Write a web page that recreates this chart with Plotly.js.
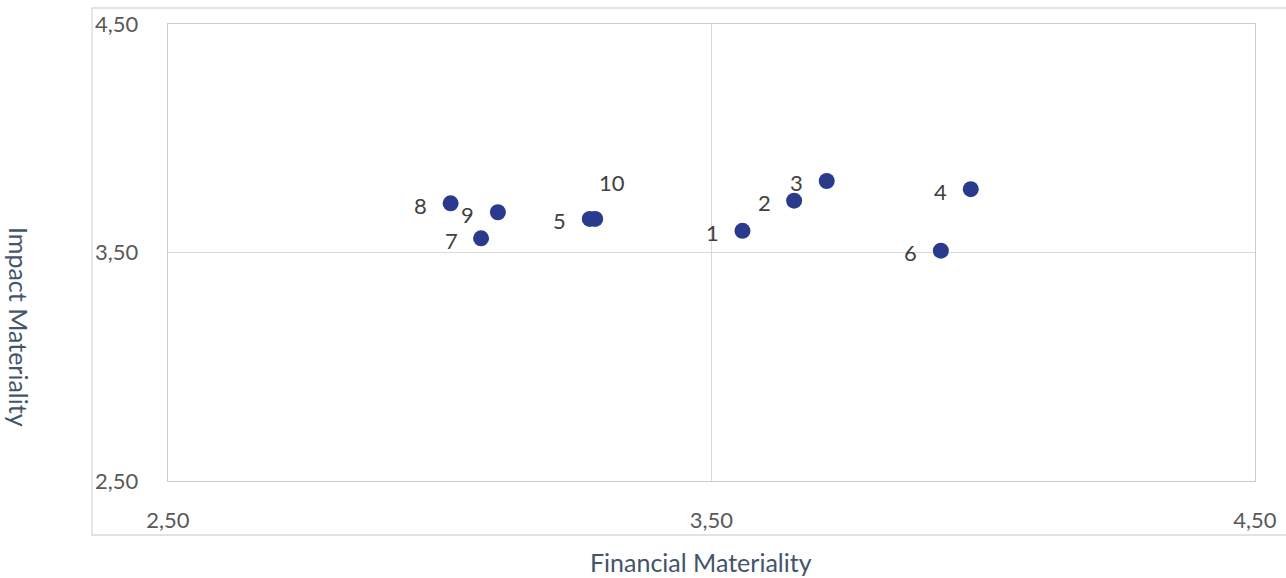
<!DOCTYPE html>
<html>
<head>
<meta charset="utf-8">
<script src="https://cdn.plot.ly/plotly-3.0.1.min.js"></script>
<style>
  html, body { margin: 0; padding: 0; background: #ffffff; }
  #chart { width: 1286px; height: 578px; }
</style>
</head>
<body>
<div id="chart"></div>
<script>
// Materiality assessment: financial vs impact score per topic
const topics = ["1", "2", "3", "4", "5", "6", "7", "8", "9", "10"];
const financial = [3.557, 3.652, 3.712, 3.977, 3.276, 3.922, 3.076, 3.020, 3.107, 3.286];
const impact    = [3.595, 3.727, 3.813, 3.777, 3.647, 3.508, 3.562, 3.715, 3.676, 3.647];
const tickValues = [2.5, 3.5, 4.5];
const tickLabels = ["2,50", "3,50", "4,50"];

const FONT = "Lato, 'Open Sans', sans-serif";

// Label placement: to the left of each dot, topic 10 sits above-right
const labelShift = topics.map(t => t === "10" ? {x: 17, y: 36} : {x: -30, y: -2});

const pointLabels = topics.map((t, i) => ({
  x: financial[i], y: impact[i], xref: "x", yref: "y",
  text: t, showarrow: false,
  xanchor: "center", yanchor: "middle",
  xshift: labelShift[i].x, yshift: labelShift[i].y,
  font: {family: FONT, size: 22, color: "#404040"}
}));

const axisTitles = [
  {text: "Financial Materiality", xref: "paper", yref: "paper", x: 0.4903, y: -0.178,
   xanchor: "center", yanchor: "middle", showarrow: false,
   font: {family: FONT, size: 25, color: "#44546a"}},
  {text: "Impact Materiality", xref: "paper", yref: "paper", x: -0.1371, y: 0.337,
   xanchor: "center", yanchor: "middle", showarrow: false, textangle: 90,
   font: {family: FONT, size: 25, color: "#44546a"}}
];

const trace = {
  type: "scatter", mode: "markers",
  x: financial, y: impact, text: topics,
  marker: {size: 16, color: "#2a3a8c"},
  hoverinfo: "text+x+y"
};

const axisCommon = {
  range: [2.5, 4.5],
  tickvals: tickValues, ticktext: tickLabels,
  showgrid: true, gridcolor: "#d9d9d9", gridwidth: 1.3,
  zeroline: false,
  showline: true, mirror: true, linecolor: "#cccccc", linewidth: 1.3,
  ticks: "",
  tickfont: {family: FONT, size: 22, color: "#595959"},
  fixedrange: true
};

const layout = {
  width: 1286, height: 578,
  margin: {l: 168, r: 31, t: 24, b: 97},
  paper_bgcolor: "#ffffff", plot_bgcolor: "#ffffff",
  showlegend: false,
  xaxis: Object.assign({}, axisCommon, {ticklabelstandoff: 19}),
  yaxis: Object.assign({}, axisCommon, {ticklabelstandoff: 24}),
  shapes: [{
    type: "rect", xref: "paper", yref: "paper",
    x0: -0.0699, x1: 1.04, y0: -0.1182, y1: 1.035,
    line: {color: "#d9d9d9", width: 1.3}, fillcolor: "rgba(0,0,0,0)", layer: "below"
  }],
  annotations: pointLabels.concat(axisTitles)
};

Plotly.newPlot("chart", [trace], layout, {displayModeBar: false, staticPlot: true});
</script>
</body>
</html>
